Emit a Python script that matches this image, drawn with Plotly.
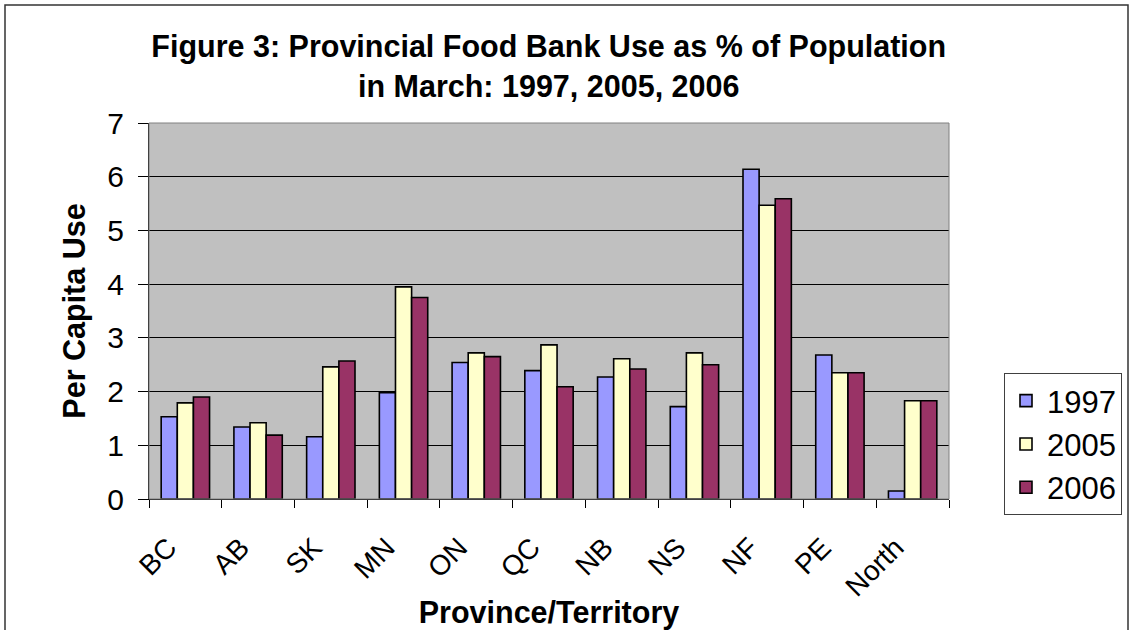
import plotly.graph_objects as go

categories = ["BC", "AB", "SK", "MN", "ON", "QC", "NB", "NS", "NF", "PE", "North"]
v1997 = [1.53, 1.34, 1.16, 1.98, 2.54, 2.39, 2.27, 1.72, 6.14, 2.68, 0.15]
v2005 = [1.79, 1.42, 2.46, 3.95, 2.72, 2.87, 2.61, 2.72, 5.47, 2.35, 1.83]
v2006 = [1.90, 1.19, 2.57, 3.75, 2.65, 2.09, 2.42, 2.50, 5.59, 2.35, 1.83]
series_names = ["1997", "2005", "2006"]
colors = ["#9999FF", "#FFFFCC", "#993366"]

FONT = "Liberation Sans, Arial, sans-serif"
W, H = 1133, 630
L, R, T, B = 149, 184, 123, 131
pw, ph = W - L - R, H - T - B

fig = go.Figure()
for name, vals, col in zip(series_names, [v1997, v2005, v2006], colors):
    fig.add_trace(go.Bar(
        x=categories, y=vals, name=name, legendgroup=name,
        marker=dict(color=col, line=dict(color="#000000", width=1.6)),
    ))

def px_x(p):
    return (p - L) / pw

def px_y(p):
    return (H - B - p) / ph

fig.update_layout(
    width=W, height=H,
    margin=dict(l=L, r=R, t=T, b=B, autoexpand=False),
    paper_bgcolor="white",
    plot_bgcolor="#C0C0C0",
    barmode="group",
    bargap=0.335,
    bargroupgap=0,
    font=dict(family=FONT, color="#000000"),
    title=dict(
        text="<b>Figure 3: Provincial Food Bank Use as % of Population<br>in March: 1997, 2005, 2006</b>",
        font=dict(size=30.5, family=FONT, color="#000000"),
        x=548.7 / W, xanchor="center",
        y=1 - 57 / H, yanchor="top",
    ),
    xaxis=dict(
        type="category",
        tickson="boundaries",
        ticks="outside", ticklen=8, tickcolor="#000000", tickwidth=1,
        tickangle=-45,
        ticklabelshift=-17, ticklabelstandoff=20,
        tickfont=dict(size=28, family=FONT),
        showline=True, linecolor="#000000", linewidth=1,
        showgrid=False,
        title=dict(text="<b>Province/Territory</b>", font=dict(size=30.5, family=FONT), standoff=0),
        automargin=False,
    ),
    yaxis=dict(
        range=[0, 7], dtick=1, tick0=0,
        ticks="outside", ticklen=10, tickcolor="#000000", tickwidth=1,
        ticklabelstandoff=8,
        tickfont=dict(size=30, family=FONT),
        showline=True, linecolor="#000000", linewidth=1,
        showgrid=True, gridcolor="#000000", gridwidth=1,
        zeroline=False,
        title=dict(text="<b>Per Capita Use</b>", font=dict(size=30.5, family=FONT), standoff=12),
        automargin=False,
    ),
    legend=dict(
        x=px_x(1004), xanchor="left",
        y=px_y(373), yanchor="top",
        bgcolor="white", bordercolor="#404040", borderwidth=1,
        font=dict(size=31, family=FONT),
        traceorder="normal",
        tracegroupgap=5,
        itemwidth=32,
    ),
    showlegend=True,
    shapes=[
        dict(type="rect", xref="paper", yref="paper",
             x0=0, x1=1, y0=0, y1=1,
             line=dict(color="#808080", width=1), fillcolor="rgba(0,0,0,0)", layer="above"),
        dict(type="rect", xref="paper", yref="paper",
             x0=px_x(5), x1=px_x(1128), y0=px_y(645), y1=px_y(5),
             line=dict(color="#333333", width=1.5), fillcolor="rgba(0,0,0,0)", layer="below"),
    ],
)

fig.write_html(
    "out.html",
    config={"displayModeBar": False},
    post_script="document.body.style.margin='0';document.body.style.overflow='hidden';",
)
